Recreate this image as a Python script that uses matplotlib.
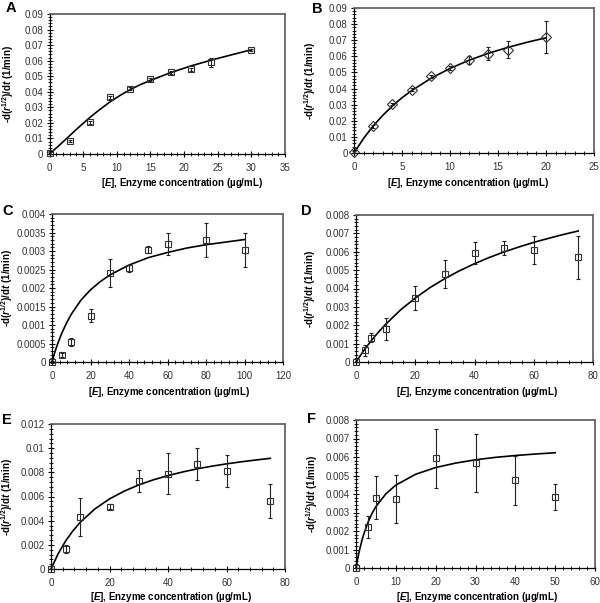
"""Six-panel enzyme concentration vs. shrinking-rate plot (panels A-F)."""

import matplotlib

matplotlib.use("Agg")
import matplotlib.pyplot as plt
from matplotlib.ticker import AutoMinorLocator, FuncFormatter, MultipleLocator

plt.rcParams["font.family"] = ["Liberation Sans", "DejaVu Sans"]
plt.rcParams["mathtext.fontset"] = "custom"
plt.rcParams["mathtext.rm"] = "Liberation Sans:bold"
plt.rcParams["mathtext.it"] = "Liberation Sans:bold:italic"

# ---- Panel A ----
a_x = [0, 3, 6, 9, 12, 15, 18, 21, 24, 30]
a_y = [0.0005, 0.0085, 0.0205, 0.0365, 0.042, 0.048, 0.0525, 0.0545, 0.059, 0.067]
a_err = [0.0005, 0.0008, 0.001, 0.001, 0.001, 0.001, 0.001, 0.001, 0.003, 0.0008]
a_fit_x = [0, 1.5, 3, 4.5, 6, 7.5, 9, 10.5, 12, 13.5, 15, 18, 21, 24, 27, 30]
a_fit_y = [0, 0.0058, 0.0118, 0.0178, 0.0235, 0.0287, 0.0335, 0.0377, 0.0414,
           0.0446, 0.0473, 0.0523, 0.0566, 0.0603, 0.0637, 0.067]

# ---- Panel B ----
b_x = [0, 2, 4, 6, 8, 10, 12, 14, 16, 20]
b_y = [0.0005, 0.0166, 0.0304, 0.0393, 0.0476, 0.0528, 0.058, 0.0615, 0.0642, 0.072]
b_err = [0.0005, 0.0008, 0.0008, 0.0008, 0.001, 0.001, 0.0025, 0.004, 0.0055, 0.01]
b_fit_x = [0, 1, 2, 3, 4, 5, 6, 8, 10, 12, 14, 16, 18, 20]
b_fit_y = [0, 0.0091, 0.0168, 0.0234, 0.0292, 0.0343, 0.0387, 0.0463, 0.0525,
           0.0576, 0.0619, 0.0655, 0.0687, 0.0715]

# ---- Panel C ----
c_x = [0, 5, 10, 20, 30, 40, 50, 60, 80, 100]
c_y = [0.0, 0.00018, 0.00054, 0.00125, 0.0024, 0.00253, 0.00304, 0.00318, 0.0033, 0.00303]
c_err = [0.00003, 0.00005, 0.0001, 0.00018, 0.00038, 0.0001, 0.0001, 0.0003, 0.00047, 0.00046]
c_fit_x = [0, 1, 2, 3, 5, 7.5, 10, 15, 20, 25, 30, 40, 50, 60, 70, 80, 90, 100]
c_fit_y = [0, 0.000182, 0.000348, 0.0005, 0.000769, 0.00105, 0.00129, 0.00167,
           0.00195, 0.00217, 0.00235, 0.00262, 0.00282, 0.00296, 0.00308,
           0.00317, 0.00324, 0.00331]

# ---- Panel D ----
d_x = [0, 3, 5, 10, 20, 30, 40, 50, 60, 75]
d_y = [0.0, 0.00064, 0.00133, 0.0018, 0.0035, 0.0048, 0.00595, 0.0062, 0.0061, 0.0057]
d_err = [0.0, 0.0003, 0.00025, 0.0006, 0.00066, 0.00075, 0.0006, 0.0004, 0.00075, 0.00118]
d_fit_x = [0, 2.5, 5, 7.5, 10, 15, 20, 25, 30, 35, 40, 45, 50, 55, 60, 65, 70, 75]
d_fit_y = [0, 0.000593, 0.00113, 0.00161, 0.00205, 0.00283, 0.00348, 0.00405,
           0.00454, 0.00497, 0.00535, 0.00569, 0.00599, 0.00626, 0.00651,
           0.00673, 0.00694, 0.00713]

# ---- Panel E ----
e_x = [0, 5, 10, 20, 30, 40, 50, 60, 75]
e_y = [0.0, 0.00166, 0.00433, 0.00516, 0.0073, 0.0079, 0.0087, 0.0081, 0.0056]
e_err = [0.0, 0.0003, 0.00157, 0.0002, 0.0009, 0.0017, 0.0013, 0.0013, 0.0014]
e_fit_x = [0, 2.5, 5, 7.5, 10, 15, 20, 25, 30, 35, 40, 45, 50, 55, 60, 65, 70, 75]
e_fit_y = [0, 0.00129, 0.00232, 0.00316, 0.00387, 0.00497, 0.0058, 0.00644,
           0.00696, 0.00738, 0.00773, 0.00803, 0.00829, 0.00851, 0.0087,
           0.00887, 0.00902, 0.00916]

# ---- Panel F ----
f_x = [0, 3, 5, 10, 20, 30, 40, 50]
f_y = [0.0, 0.0022, 0.0038, 0.00374, 0.00593, 0.00567, 0.00473, 0.00383]
f_err = [0.0, 0.0006, 0.00117, 0.0013, 0.0016, 0.00158, 0.0013, 0.00072]
f_fit_x = [0, 0.5, 1, 1.5, 2, 3, 4, 5, 7.5, 10, 15, 20, 25, 30, 35, 40, 45, 50]
f_fit_y = [0, 0.000585, 0.00108, 0.0015, 0.00186, 0.00246, 0.00294, 0.00332,
           0.00401, 0.00448, 0.00507, 0.00543, 0.00567, 0.00585, 0.00598,
           0.00608, 0.00616, 0.00623]

PANELS = [
    # letter, data, fit, marker, xmax, xstep, ymax, ystep,
    # axes rect px (left, top, right, bottom), letter px, ylabel x px, xlabel (x, y) px
    ("A", (a_x, a_y, a_err), (a_fit_x, a_fit_y), "s", 35, 5, 0.09, 0.01,
     (49.5, 14, 285, 154), (6, 1), 8, (182, 183)),
    ("B", (b_x, b_y, b_err), (b_fit_x, b_fit_y), "D", 25, 5, 0.09, 0.01,
     (354, 8, 594, 153), (312, 2), 310, (468, 183)),
    ("C", (c_x, c_y, c_err), (c_fit_x, c_fit_y), "s", 120, 20, 0.004, 0.0005,
     (52, 214, 283, 362), (2, 204), 7, (169, 392)),
    ("D", (d_x, d_y, d_err), (d_fit_x, d_fit_y), "s", 80, 20, 0.008, 0.001,
     (356, 215, 593, 362), (301, 204), 310, (477, 392)),
    ("E", (e_x, e_y, e_err), (e_fit_x, e_fit_y), "s", 80, 20, 0.012, 0.002,
     (51, 424, 285, 569), (2, 413), 7, (171, 597)),
    ("F", (f_x, f_y, f_err), (f_fit_x, f_fit_y), "s", 60, 10, 0.008, 0.001,
     (356, 420, 595, 568), (307, 412), 312, (477, 597)),
]

FIG_W, FIG_H = 600, 603
YLABEL = r"-d($r^{1/2}$)/d$t$ (1/min)"
XLABEL = r"[$E$], Enzyme concentration (µg/mL)"


def _draw_panel(fig, letter, data, fit, marker, xmax, xstep, ymax, ystep,
                rect, letter_pos, ylabel_x, xlabel_pos):
    left, top, right, bottom = rect
    width, height = right - left, bottom - top
    ax = fig.add_axes([left / FIG_W, 1 - bottom / FIG_H, width / FIG_W, height / FIG_H])
    x, y, err = data
    ax.plot(fit[0], fit[1], color="black", lw=1.2, zorder=3, clip_on=False)
    ax.errorbar(x, y, yerr=err, fmt=marker, ms=4.4 if marker == "s" else 4.8,
                mfc="none", mec="#333333", mew=0.8, ecolor="#222222",
                elinewidth=0.8, capsize=1.5, capthick=0.8, zorder=4, clip_on=False)

    ax.set_xlim(0, xmax)
    ax.set_ylim(0, ymax)
    ax.xaxis.set_major_locator(MultipleLocator(xstep))
    ax.yaxis.set_major_locator(MultipleLocator(ystep))
    ax.xaxis.set_minor_locator(AutoMinorLocator(5))
    ax.yaxis.set_minor_locator(AutoMinorLocator(5))
    ax.yaxis.set_major_formatter(FuncFormatter(lambda v, _: f"{v:g}"))
    ax.xaxis.set_major_formatter(FuncFormatter(lambda v, _: f"{v:g}"))

    ax.tick_params(which="major", direction="inout", length=5, width=0.8,
                   labelsize=7, labelcolor="#333333", pad=2)
    ax.tick_params(which="minor", direction="inout", length=2.5, width=0.6)
    ax.tick_params(axis="x", pad=4)
    for side in ("left", "bottom"):
        ax.spines[side].set_color("black")
        ax.spines[side].set_linewidth(0.9)
    for side in ("top", "right"):
        ax.spines[side].set_color("#666666")
        ax.spines[side].set_linewidth(1.3)

    ax.set_xlabel(XLABEL, fontsize=7, fontweight="bold", va="center")
    ax.xaxis.set_label_coords((xlabel_pos[0] - left) / width,
                              (bottom - xlabel_pos[1]) / height)
    ax.set_ylabel(YLABEL, fontsize=7, fontweight="bold", va="center")
    ax.yaxis.set_label_coords((ylabel_x - left) / width, 0.5)

    fig.text(letter_pos[0] / FIG_W, 1 - letter_pos[1] / FIG_H, letter,
             fontsize=10.5, fontweight="bold", ha="left", va="top")
    return ax


def main():
    fig = plt.figure(figsize=(FIG_W / 100, FIG_H / 100), dpi=100)
    for panel in PANELS:
        _draw_panel(fig, *panel)
    fig.savefig("out.png", dpi=100)
    plt.close(fig)


if __name__ == "__main__":
    main()
